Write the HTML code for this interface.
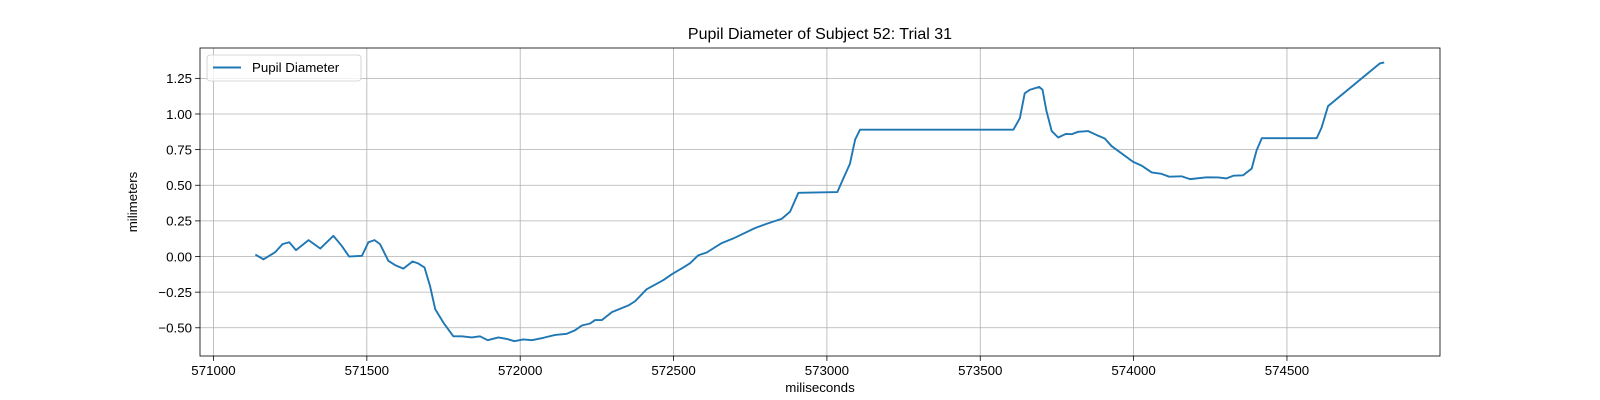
<!DOCTYPE html>
<html><head><meta charset="utf-8"><style>
html,body{margin:0;padding:0;background:#fff;}
svg{display:block;font-family:"Liberation Sans","DejaVu Sans",sans-serif;}
</style></head><body>
<svg id="chart" width="1600" height="400" viewBox="0 0 1600 400"></svg>
<script>
const times=[571139,571163,571201,571225,571247,571269,571310,571348,571391,571418,571442,571484,571505,571525,571543,571570,571592,571619,571649,571666,571688,571706,571723,571750,571782,571810,571842,571869,571894,571929,571956,571981,572010,572038,572076,572114,572152,572179,572201,572228,572244,572266,572299,572353,572375,572412,572467,572494,572532,572554,572581,572608,572630,572657,572695,572766,572804,572853,572880,572907,573034,573053,573075,573092,573108,573608,573629,573645,573662,573692,573703,573716,573733,573754,573779,573798,573819,573852,573879,573906,573928,573998,574026,574059,574091,574116,574156,574184,574238,574276,574303,574325,574357,574385,574401,574418,574597,574613,574634,574662,574803,574814];
const pupil=[0.01,-0.02,0.03,0.087,0.10,0.045,0.115,0.056,0.145,0.075,0.0,0.005,0.10,0.115,0.087,-0.03,-0.06,-0.085,-0.035,-0.047,-0.077,-0.207,-0.37,-0.465,-0.56,-0.56,-0.568,-0.56,-0.587,-0.568,-0.578,-0.594,-0.582,-0.587,-0.57,-0.55,-0.542,-0.517,-0.484,-0.47,-0.446,-0.446,-0.39,-0.343,-0.313,-0.23,-0.165,-0.125,-0.077,-0.047,0.009,0.028,0.058,0.094,0.127,0.2,0.23,0.265,0.315,0.447,0.452,0.545,0.65,0.82,0.89,0.89,0.97,1.145,1.17,1.19,1.17,1.02,0.88,0.835,0.86,0.858,0.875,0.88,0.853,0.828,0.775,0.665,0.638,0.59,0.58,0.56,0.563,0.543,0.556,0.555,0.548,0.567,0.57,0.617,0.745,0.83,0.83,0.905,1.055,1.105,1.355,1.36];
const xTicks=[571000,571500,572000,572500,573000,573500,574000,574500];
const yTicks=[-0.5,-0.25,0,0.25,0.5,0.75,1.0,1.25];
const yTickLabels=["\u22120.50","\u22120.25","0.00","0.25","0.50","0.75","1.00","1.25"];

const L=200,R=1440,T=48,B=356;
const xmin=570956,xmax=574999,ymin=-0.698,ymax=1.463;
const sx=v=>L+(v-xmin)/(xmax-xmin)*(R-L);
const sy=v=>B-(v-ymin)/(ymax-ymin)*(B-T);
const svg=document.getElementById('chart');
const NS='http://www.w3.org/2000/svg';
function mk(tag,attrs,parent){const e=document.createElementNS(NS,tag);for(const k in attrs)e.setAttribute(k,attrs[k]);(parent||svg).appendChild(e);return e;}

const grid=mk('g',{});


xTicks.forEach(t=>{
  const x=sx(t);
  const g=mk('line',{x1:x,x2:x,y1:T,y2:B,stroke:'#b0b0b0','stroke-width':0.8},grid);
  
  
  const tk=mk('line',{x1:x,x2:x,y1:B,y2:B+4.9,stroke:'#000','stroke-width':0.8});
  
  
  const lb=mk('text',{x:x,y:B+19,'font-size':13.3,'text-anchor':'middle',fill:'#000'});
  lb.textContent=String(t);
  
  
});
yTicks.forEach((t,i)=>{
  const y=sy(t);
  const g=mk('line',{x1:L,x2:R,y1:y,y2:y,stroke:'#b0b0b0','stroke-width':0.8},grid);
  
  
  const tk=mk('line',{x1:L-4.9,x2:L,y1:y,y2:y,stroke:'#000','stroke-width':0.8});
  
  
  const lb=mk('text',{x:L-8,y:y+4.8,'font-size':13.3,'text-anchor':'end',fill:'#000'});
  lb.textContent=yTickLabels[i];
  
  
});

const pts=times.map((t,i)=>sx(t).toFixed(2)+','+sy(pupil[i]).toFixed(2)).join(' ');
const line=mk('polyline',{points:pts,fill:'none',stroke:'#1f77b4','stroke-width':1.9,'stroke-linejoin':'round','stroke-linecap':'square'});



const frame=mk('rect',{x:L,y:T,width:R-L,height:B-T,fill:'none',stroke:'#000','stroke-width':0.8});



const title=mk('text',{x:(L+R)/2,y:39,'font-size':16,'text-anchor':'middle',fill:'#000'});
title.textContent='Pupil Diameter of Subject 52: Trial 31';



const xl=mk('text',{x:(L+R)/2,y:392,'font-size':13.3,'text-anchor':'middle',fill:'#000'});
xl.textContent='miliseconds';



const yl=mk('text',{x:0,y:0,'font-size':13.3,'text-anchor':'middle',fill:'#000',transform:'translate(137,'+((T+B)/2)+') rotate(-90)'});
yl.textContent='milimeters';



const leg=mk('g',{});


const lbox=mk('rect',{x:207,y:55,width:154,height:26,rx:3,fill:'#fff','fill-opacity':0.8,stroke:'#cccccc','stroke-width':0.8},leg);


const ll=mk('line',{x1:213,x2:241,y1:67.5,y2:67.5,stroke:'#1f77b4','stroke-width':1.9},leg);


const lt=mk('text',{x:252,y:72,'font-size':13.3,fill:'#000'},leg);
lt.textContent='Pupil Diameter';


</script>
</body></html>
